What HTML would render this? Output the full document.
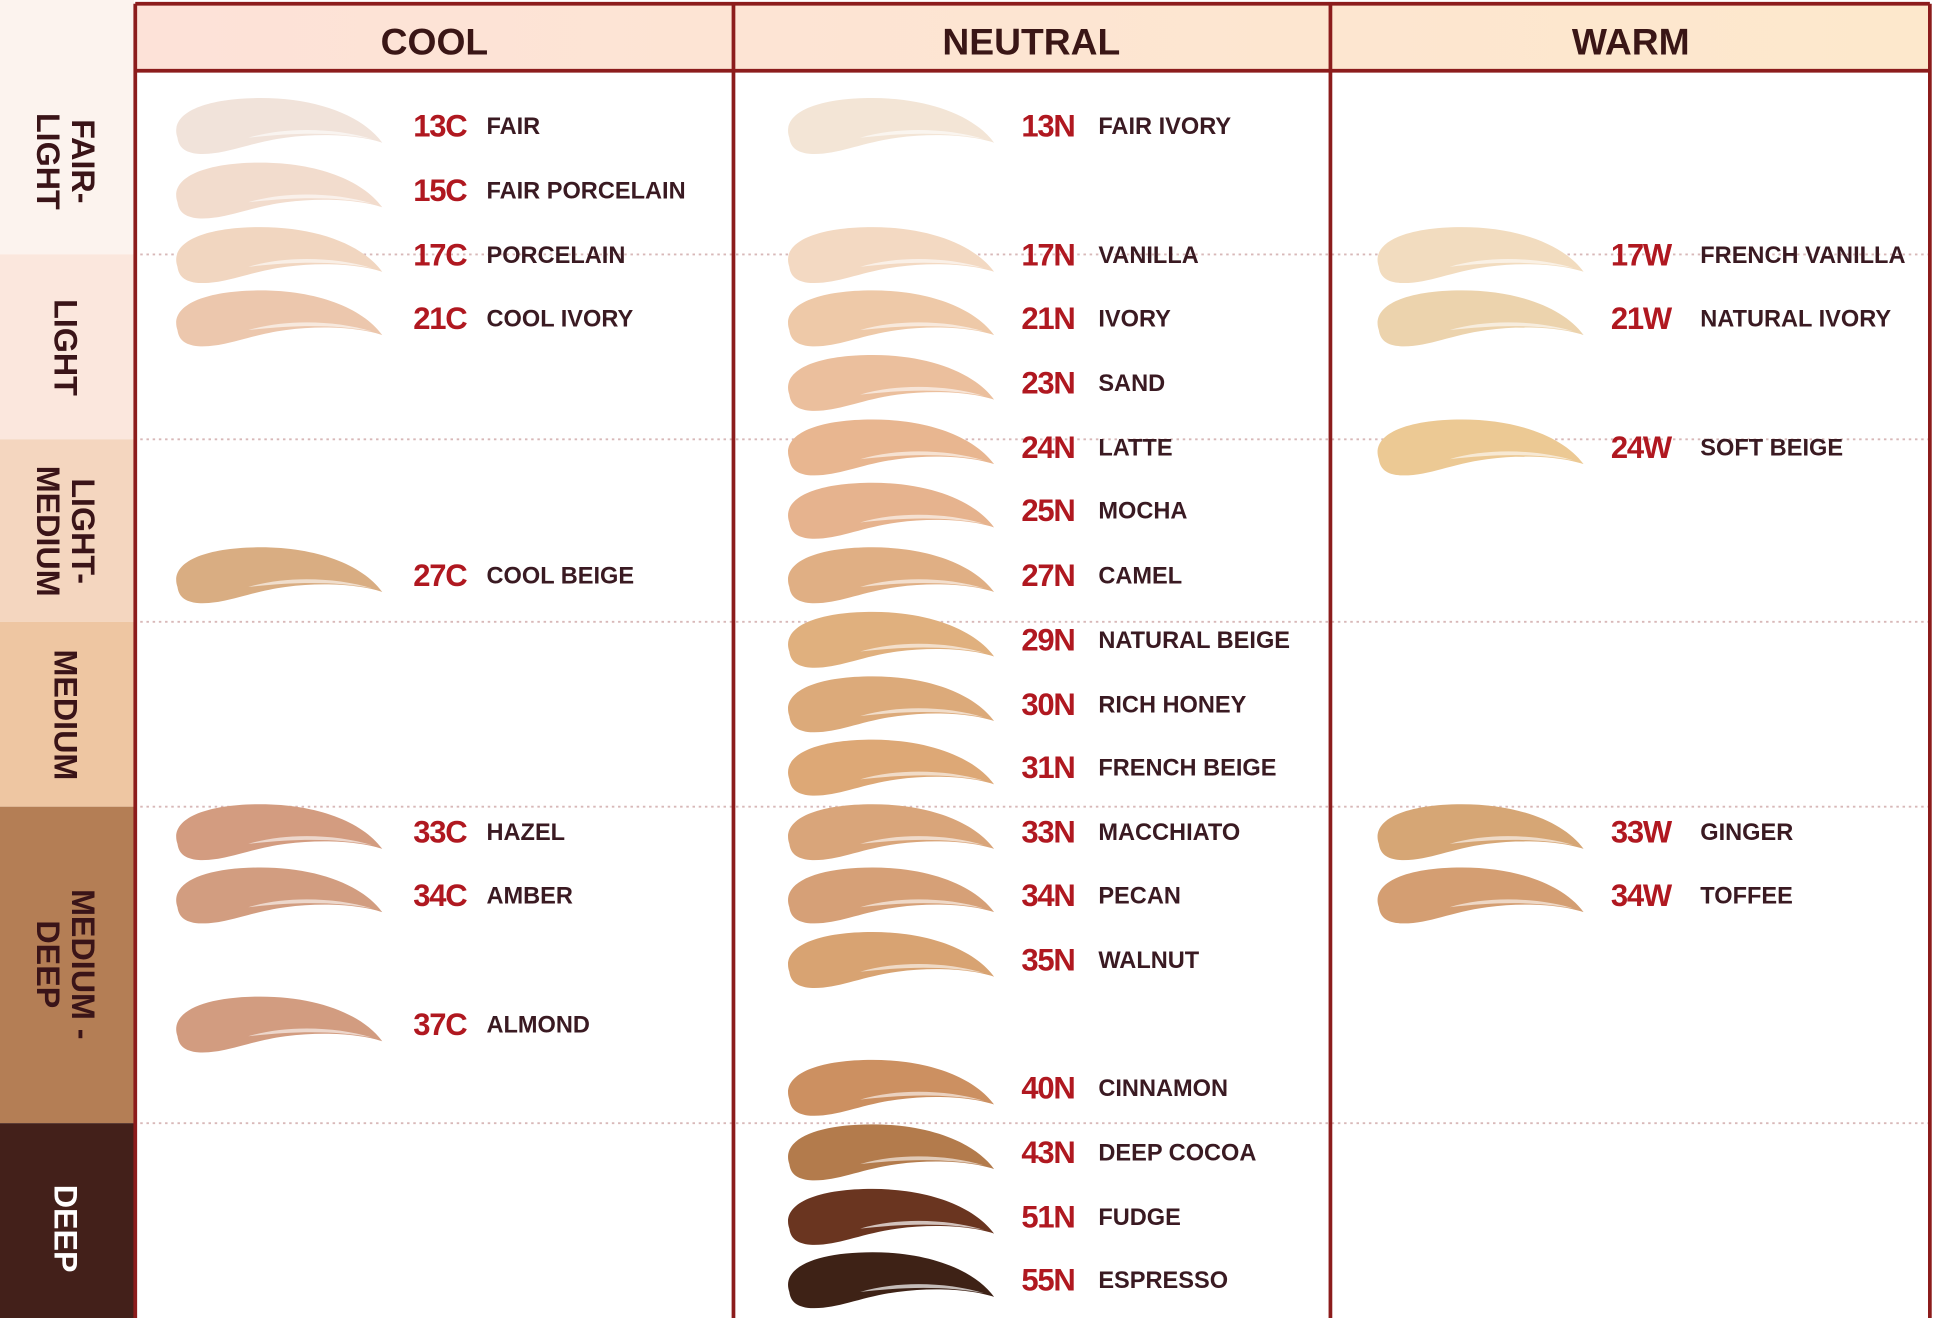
<!DOCTYPE html>
<html><head><meta charset="utf-8"><style>
html,body{margin:0;padding:0;background:#fff;}
svg{display:block;}
.code{font-family:"Liberation Sans",sans-serif;font-size:25px;font-weight:bold;fill:#b01820;letter-spacing:-1px;}
.nm{font-family:"Liberation Sans",sans-serif;font-size:19px;font-weight:bold;fill:#3a1a22;}
.hd{font-family:"Liberation Sans",sans-serif;font-size:30px;font-weight:bold;fill:#3a1616;}
.bd{font-family:"Liberation Sans",sans-serif;font-size:26px;font-weight:bold;fill:#3a1418;}
</style></head><body>
<svg width="1946" height="1318" viewBox="0 0 1568 1062" preserveAspectRatio="none" xmlns="http://www.w3.org/2000/svg">
<defs>
<linearGradient id="hg" x1="0" x2="1"><stop offset="0" stop-color="#fde2d8"/><stop offset="1" stop-color="#fde8cc"/></linearGradient>
<path id="sw" d="M3,10 C-4,-10 25,-22 70,-22 C115,-22 152,-8 168,14 C150,8 120,6 90,10 C60,14 42,24 20,23 C8,22 4,17 3,10 Z"/>
<path id="hl" d="M60,10 C90,1 130,2 160,11 C128,5 95,6 60,10 Z"/>
</defs>
<rect width="1568" height="1062" fill="#fff"/>
<rect x="0" y="0" width="108" height="205" fill="#fcf3ee"/>
<rect x="0" y="205" width="108" height="149" fill="#fbe7dd"/>
<rect x="0" y="354" width="108" height="147" fill="#f4d6bf"/>
<rect x="0" y="501" width="108" height="149" fill="#eec6a2"/>
<rect x="0" y="650" width="108" height="255" fill="#b47e55"/>
<rect x="0" y="905" width="108" height="157" fill="#43201a"/>
<g class="bd" text-anchor="middle">
<text transform="translate(54,130) rotate(90)"><tspan x="0" y="-4">FAIR-</tspan><tspan x="0" y="24">LIGHT</tspan></text>
<text transform="translate(54,280) rotate(90)" y="10">LIGHT</text>
<text transform="translate(54,428) rotate(90)"><tspan x="0" y="-4">LIGHT-</tspan><tspan x="0" y="24">MEDIUM</tspan></text>
<text transform="translate(54,576) rotate(90)" y="10">MEDIUM</text>
<text transform="translate(54,777) rotate(90)"><tspan x="0" y="-4">MEDIUM -</tspan><tspan x="0" y="24">DEEP</tspan></text>
<text transform="translate(54,990) rotate(90)" y="10" style="fill:#fff">DEEP</text>
</g>
<rect x="109" y="4" width="1446" height="53" fill="url(#hg)"/>
<g class="hd" text-anchor="middle">
<text x="350" y="44">COOL</text><text x="831" y="44">NEUTRAL</text><text x="1314" y="44">WARM</text>
</g>
<g stroke="#d8b8b8" stroke-width="1.5" stroke-dasharray="2,3">
<line x1="108" y1="205" x2="1555" y2="205"/><line x1="108" y1="354" x2="1555" y2="354"/>
<line x1="108" y1="501" x2="1555" y2="501"/><line x1="108" y1="650" x2="1555" y2="650"/>
<line x1="108" y1="905" x2="1555" y2="905"/>
</g>
<g stroke="#8c1c1c" stroke-width="3" fill="none">
<line x1="109" y1="3" x2="1555" y2="3"/><line x1="109" y1="57" x2="1555" y2="57"/>
<line x1="109" y1="3" x2="109" y2="1062"/><line x1="591" y1="3" x2="591" y2="1062"/>
<line x1="1072" y1="3" x2="1072" y2="1062"/><line x1="1555" y1="3" x2="1555" y2="1062"/>
</g>
<g>
<g transform="translate(140,101)"><use href="#sw" fill="#f1e3da"/><use href="#hl" fill="#fff" opacity=".6"/></g><text class="code" x="333" y="110">13C</text><text class="nm" x="392" y="108">FAIR</text>
<g transform="translate(140,153)"><use href="#sw" fill="#f2dccd"/><use href="#hl" fill="#fff" opacity=".6"/></g><text class="code" x="333" y="162">15C</text><text class="nm" x="392" y="160">FAIR PORCELAIN</text>
<g transform="translate(140,205)"><use href="#sw" fill="#f1d6c0"/><use href="#hl" fill="#fff" opacity=".6"/></g><text class="code" x="333" y="214">17C</text><text class="nm" x="392" y="212">PORCELAIN</text>
<g transform="translate(140,256)"><use href="#sw" fill="#ecc7ad"/><use href="#hl" fill="#fff" opacity=".6"/></g><text class="code" x="333" y="265">21C</text><text class="nm" x="392" y="263">COOL IVORY</text>
<g transform="translate(140,463)"><use href="#sw" fill="#d9ad82"/><use href="#hl" fill="#fff" opacity=".6"/></g><text class="code" x="333" y="472">27C</text><text class="nm" x="392" y="470">COOL BEIGE</text>
<g transform="translate(140,670)"><use href="#sw" fill="#d39c80"/><use href="#hl" fill="#fff" opacity=".6"/></g><text class="code" x="333" y="679">33C</text><text class="nm" x="392" y="677">HAZEL</text>
<g transform="translate(140,721)"><use href="#sw" fill="#d29d80"/><use href="#hl" fill="#fff" opacity=".6"/></g><text class="code" x="333" y="730">34C</text><text class="nm" x="392" y="728">AMBER</text>
<g transform="translate(140,825)"><use href="#sw" fill="#d29c80"/><use href="#hl" fill="#fff" opacity=".6"/></g><text class="code" x="333" y="834">37C</text><text class="nm" x="392" y="832">ALMOND</text>
<g transform="translate(633,101)"><use href="#sw" fill="#f3e5d6"/><use href="#hl" fill="#fff" opacity=".6"/></g><text class="code" x="823" y="110">13N</text><text class="nm" x="885" y="108">FAIR IVORY</text>
<g transform="translate(633,205)"><use href="#sw" fill="#f3d9c2"/><use href="#hl" fill="#fff" opacity=".6"/></g><text class="code" x="823" y="214">17N</text><text class="nm" x="885" y="212">VANILLA</text>
<g transform="translate(633,256)"><use href="#sw" fill="#eec9a8"/><use href="#hl" fill="#fff" opacity=".6"/></g><text class="code" x="823" y="265">21N</text><text class="nm" x="885" y="263">IVORY</text>
<g transform="translate(633,308)"><use href="#sw" fill="#ebbf9d"/><use href="#hl" fill="#fff" opacity=".6"/></g><text class="code" x="823" y="317">23N</text><text class="nm" x="885" y="315">SAND</text>
<g transform="translate(633,360)"><use href="#sw" fill="#e8b690"/><use href="#hl" fill="#fff" opacity=".6"/></g><text class="code" x="823" y="369">24N</text><text class="nm" x="885" y="367">LATTE</text>
<g transform="translate(633,411)"><use href="#sw" fill="#e6b38e"/><use href="#hl" fill="#fff" opacity=".6"/></g><text class="code" x="823" y="420">25N</text><text class="nm" x="885" y="418">MOCHA</text>
<g transform="translate(633,463)"><use href="#sw" fill="#e0af84"/><use href="#hl" fill="#fff" opacity=".6"/></g><text class="code" x="823" y="472">27N</text><text class="nm" x="885" y="470">CAMEL</text>
<g transform="translate(633,515)"><use href="#sw" fill="#e0b07e"/><use href="#hl" fill="#fff" opacity=".6"/></g><text class="code" x="823" y="524">29N</text><text class="nm" x="885" y="522">NATURAL BEIGE</text>
<g transform="translate(633,567)"><use href="#sw" fill="#dcaa7a"/><use href="#hl" fill="#fff" opacity=".6"/></g><text class="code" x="823" y="576">30N</text><text class="nm" x="885" y="574">RICH HONEY</text>
<g transform="translate(633,618)"><use href="#sw" fill="#dda876"/><use href="#hl" fill="#fff" opacity=".6"/></g><text class="code" x="823" y="627">31N</text><text class="nm" x="885" y="625">FRENCH BEIGE</text>
<g transform="translate(633,670)"><use href="#sw" fill="#d9a57a"/><use href="#hl" fill="#fff" opacity=".6"/></g><text class="code" x="823" y="679">33N</text><text class="nm" x="885" y="677">MACCHIATO</text>
<g transform="translate(633,721)"><use href="#sw" fill="#d6a077"/><use href="#hl" fill="#fff" opacity=".6"/></g><text class="code" x="823" y="730">34N</text><text class="nm" x="885" y="728">PECAN</text>
<g transform="translate(633,773)"><use href="#sw" fill="#d8a372"/><use href="#hl" fill="#fff" opacity=".6"/></g><text class="code" x="823" y="782">35N</text><text class="nm" x="885" y="780">WALNUT</text>
<g transform="translate(633,876)"><use href="#sw" fill="#cc9061"/><use href="#hl" fill="#fff" opacity=".6"/></g><text class="code" x="823" y="885">40N</text><text class="nm" x="885" y="883">CINNAMON</text>
<g transform="translate(633,928)"><use href="#sw" fill="#b37b4c"/><use href="#hl" fill="#fff" opacity=".6"/></g><text class="code" x="823" y="937">43N</text><text class="nm" x="885" y="935">DEEP COCOA</text>
<g transform="translate(633,980)"><use href="#sw" fill="#6a3520"/><use href="#hl" fill="#fff" opacity=".7"/></g><text class="code" x="823" y="989">51N</text><text class="nm" x="885" y="987">FUDGE</text>
<g transform="translate(633,1031)"><use href="#sw" fill="#3e2216"/><use href="#hl" fill="#fff" opacity=".7"/></g><text class="code" x="823" y="1040">55N</text><text class="nm" x="885" y="1038">ESPRESSO</text>
<g transform="translate(1108,205)"><use href="#sw" fill="#f2dcbf"/><use href="#hl" fill="#fff" opacity=".6"/></g><text class="code" x="1298" y="214">17W</text><text class="nm" x="1370" y="212">FRENCH VANILLA</text>
<g transform="translate(1108,256)"><use href="#sw" fill="#ecd3ad"/><use href="#hl" fill="#fff" opacity=".6"/></g><text class="code" x="1298" y="265">21W</text><text class="nm" x="1370" y="263">NATURAL IVORY</text>
<g transform="translate(1108,360)"><use href="#sw" fill="#ecc994"/><use href="#hl" fill="#fff" opacity=".6"/></g><text class="code" x="1298" y="369">24W</text><text class="nm" x="1370" y="367">SOFT BEIGE</text>
<g transform="translate(1108,670)"><use href="#sw" fill="#d6a675"/><use href="#hl" fill="#fff" opacity=".6"/></g><text class="code" x="1298" y="679">33W</text><text class="nm" x="1370" y="677">GINGER</text>
<g transform="translate(1108,721)"><use href="#sw" fill="#d49e72"/><use href="#hl" fill="#fff" opacity=".6"/></g><text class="code" x="1298" y="730">34W</text><text class="nm" x="1370" y="728">TOFFEE</text>
</g>
</svg>
</body></html>
